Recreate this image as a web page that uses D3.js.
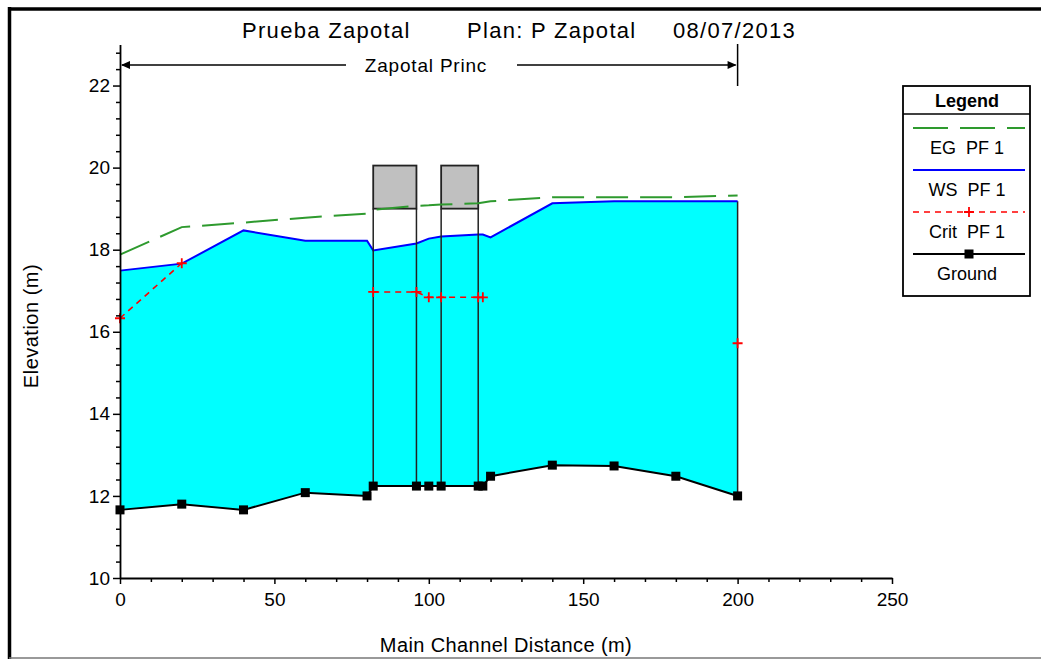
<!DOCTYPE html>
<html>
<head>
<meta charset="utf-8">
<script src="https://cdn.jsdelivr.net/npm/d3@7"></script>
<style>
  body { margin: 0; background: #fff; }
  text { font-family: "Liberation Sans", Arial, sans-serif; fill: #000; }
</style>
</head>
<body>
<svg id="chart" width="1041" height="659"></svg>
<script>
// profile data (main channel stations, m)
const stations = [0, 20, 40, 60, 80, 82, 96, 100, 104, 116, 117.5, 120, 140, 160, 180, 200];
const ground   = [11.66, 11.8, 11.66, 12.08, 12.0, 12.24, 12.24, 12.24, 12.24, 12.24, 12.24, 12.48, 12.75, 12.73, 12.48, 12.0];
const wsPF1    = [17.49, 17.66, 18.47, 18.22, 18.22, 17.98, 18.15, 18.27, 18.32, 18.37, 18.37, 18.3, 19.13, 19.18, 19.18, 19.18];
const egPF1    = [17.88, 18.55, 18.66, 18.78, 18.88, 18.97, 19.07, 19.08, 19.1, 19.13, 19.15, 19.18, 19.28, 19.28, 19.28, 19.32];
const critPF1  = [16.33, 17.67, null, null, null, 16.97, 16.97, 16.84, 16.84, 16.84, 16.84, null, null, null, null, 15.72];

// bridge decks
const bridgeUp   = [82, 104];
const bridgeDown = [96, 116];
const highChord  = [20.05, 20.05];
const lowChord   = [19.0, 19.0];

const reachName = "Zapotal Princ";
const reachFrom = 0, reachTo = 200;

const xTicks = [0, 50, 100, 150, 200, 250];
const yTicks = [10, 12, 14, 16, 18, 20, 22];
const titleParts = ["Prueba Zapotal", "Plan: P Zapotal", "08/07/2013"];
const legendNames = ["EG  PF 1", "WS  PF 1", "Crit  PF 1", "Ground"];

const svg = d3.select("#chart");

const x = d3.scaleLinear().domain([0, 250]).range([120, 892]);
const y = d3.scaleLinear().domain([10, 23]).range([578, 44.5]);

const pts = stations.map((s, i) => ({
  s: s, g: ground[i], ws: wsPF1[i], eg: egPF1[i], cr: critPF1[i]
}));

// outer frame
svg.append("line").attr("x1", 9).attr("y1", 9).attr("x2", 1041).attr("y2", 9)
  .attr("stroke", "#000").attr("stroke-width", 3.5);
svg.append("line").attr("x1", 9.5).attr("y1", 7).attr("x2", 9.5).attr("y2", 659)
  .attr("stroke", "#000").attr("stroke-width", 3.5);
svg.append("line").attr("x1", 9).attr("y1", 658).attr("x2", 1041).attr("y2", 658)
  .attr("stroke", "#777").attr("stroke-width", 1.5);

// water fill
svg.append("path")
  .datum(pts)
  .attr("fill", "#00ffff")
  .attr("d", d3.area().x(d => x(d.s)).y0(d => y(d.g)).y1(d => y(d.ws)));

// right end of water
const last = pts[pts.length - 1];
svg.append("line")
  .attr("x1", x(last.s)).attr("x2", x(last.s))
  .attr("y1", y(last.ws)).attr("y2", y(last.g))
  .attr("stroke", "#222").attr("stroke-width", 1.5);

// water surface
svg.append("path")
  .datum(pts)
  .attr("fill", "none").attr("stroke", "#0000ff").attr("stroke-width", 2)
  .attr("d", d3.line().x(d => x(d.s)).y(d => y(d.ws)));

// bridges
const groundAt = s => pts.find(p => p.s === s).g;
bridgeUp.forEach((b, i) => {
  const e = bridgeDown[i];
  svg.append("rect")
    .attr("x", x(b)).attr("y", y(highChord[i]))
    .attr("width", x(e) - x(b)).attr("height", y(lowChord[i]) - y(highChord[i]))
    .attr("fill", "#c0c0c0").attr("stroke", "#222").attr("stroke-width", 1.8);
  [b, e].forEach(s => {
    svg.append("line")
      .attr("x1", x(s)).attr("x2", x(s))
      .attr("y1", y(lowChord[i])).attr("y2", y(groundAt(s)))
      .attr("stroke", "#222").attr("stroke-width", 1.5);
  });
});

// ground
svg.append("path")
  .datum(pts)
  .attr("fill", "none").attr("stroke", "#000").attr("stroke-width", 2)
  .attr("d", d3.line().x(d => x(d.s)).y(d => y(d.g)));

// critical depth
svg.append("path")
  .datum(pts)
  .attr("fill", "none").attr("stroke", "#ff0000").attr("stroke-width", 1.6)
  .attr("stroke-dasharray", "6,5")
  .attr("d", d3.line().defined(d => d.cr !== null).x(d => x(d.s)).y(d => y(d.cr)));

// energy grade
svg.append("path")
  .datum(pts)
  .attr("fill", "none").attr("stroke", "#2e9a2e").attr("stroke-width", 2)
  .attr("stroke-dasharray", "32,12")
  .attr("d", d3.line().x(d => x(d.s)).y(d => y(d.eg)));

// crit markers
svg.selectAll(".critMark")
  .data(pts.filter(d => d.cr !== null))
  .enter().append("path")
  .attr("class", "critMark")
  .attr("d", d => `M${x(d.s) - 5},${y(d.cr)}h10M${x(d.s)},${y(d.cr) - 5}v10`)
  .attr("stroke", "#ff0000").attr("stroke-width", 1.8);

// ground markers
svg.selectAll(".gMark")
  .data(pts)
  .enter().append("rect")
  .attr("class", "gMark")
  .attr("x", d => x(d.s) - 4.5).attr("y", d => y(d.g) - 4.5)
  .attr("width", 9).attr("height", 9)
  .attr("fill", "#000");

// axes
svg.append("g").attr("transform", "translate(120,0)")
  .call(d3.axisLeft(y).tickValues(yTicks).tickSize(7).tickSizeOuter(0).tickPadding(3));
svg.append("g").attr("transform", "translate(120,0)")
  .call(d3.axisLeft(y).tickValues(d3.range(10.4, 23, 0.4).filter(v => Math.abs(v / 2 - Math.round(v / 2)) > 0.01))
    .tickSize(4).tickSizeOuter(0).tickFormat(""))
  .select(".domain").remove();
svg.append("g").attr("transform", "translate(0,578)")
  .call(d3.axisBottom(x).tickValues(xTicks).tickSize(6).tickSizeOuter(0).tickPadding(9));
svg.append("g").attr("transform", "translate(0,578)")
  .call(d3.axisBottom(x).tickValues(d3.range(10, 250, 10).filter(v => v % 50 !== 0))
    .tickSize(4).tickSizeOuter(0).tickFormat(""))
  .select(".domain").remove();

svg.selectAll(".tick line").attr("stroke", "#000").attr("stroke-width", 1.5);
svg.selectAll(".domain").attr("stroke", "#000").attr("stroke-width", 1.8);
svg.selectAll(".tick text").style("font-size", "19px")
  .style("font-family", '"Liberation Sans", Arial, sans-serif');

// axis titles
svg.append("text").attr("x", 506).attr("y", 652).attr("text-anchor", "middle")
  .style("font-size", "20px").style("letter-spacing", "0.4px").text("Main Channel Distance (m)");
svg.append("text").attr("transform", "translate(38,326) rotate(-90)").attr("text-anchor", "middle")
  .style("font-size", "20px").style("letter-spacing", "0.5px").text("Elevation (m)");

// title
const titleX = [242, 467, 673];
titleParts.forEach((t, i) => {
  svg.append("text").attr("x", titleX[i]).attr("y", 38)
    .style("font-size", "22px").style("letter-spacing", "1.3px").text(t);
});

// reach annotation
const ry = 65;
svg.append("line").attr("x1", x(reachTo)).attr("x2", x(reachTo)).attr("y1", 44).attr("y2", 86)
  .attr("stroke", "#000").attr("stroke-width", 1.5);
svg.append("line").attr("x1", x(reachFrom) + 2).attr("x2", 346).attr("y1", ry).attr("y2", ry)
  .attr("stroke", "#000").attr("stroke-width", 1.5);
svg.append("line").attr("x1", 517).attr("x2", x(reachTo) - 2).attr("y1", ry).attr("y2", ry)
  .attr("stroke", "#000").attr("stroke-width", 1.5);
svg.append("path")
  .attr("d", `M${x(reachFrom) + 1},${ry}l9,-4v8z M${x(reachTo) - 1},${ry}l-9,-4v8z`)
  .attr("fill", "#000");
svg.append("text").attr("x", 426).attr("y", ry + 7)
  .attr("text-anchor", "middle").style("font-size", "19px").style("letter-spacing", "0.8px").text(reachName);

// legend
const lg = svg.append("g");
lg.append("rect").attr("x", 903).attr("y", 86).attr("width", 127).attr("height", 210)
  .attr("fill", "#fff").attr("stroke", "#000").attr("stroke-width", 1.8);
lg.append("line").attr("x1", 903).attr("x2", 1030).attr("y1", 114).attr("y2", 114)
  .attr("stroke", "#000").attr("stroke-width", 1.5);
lg.append("text").attr("x", 967).attr("y", 107).attr("text-anchor", "middle")
  .style("font-size", "18px").style("font-weight", "bold").text("Legend");

const lineY = [128, 170, 212, 254];
const textY = [154, 196, 238, 280];
const lx1 = 913, lx2 = 1025, lmid = 969;
lg.append("line").attr("x1", lx1).attr("x2", lx2).attr("y1", lineY[0]).attr("y2", lineY[0])
  .attr("stroke", "#2e9a2e").attr("stroke-width", 2).attr("stroke-dasharray", "35,12");
lg.append("line").attr("x1", lx1).attr("x2", lx2).attr("y1", lineY[1]).attr("y2", lineY[1])
  .attr("stroke", "#0000ff").attr("stroke-width", 2);
lg.append("line").attr("x1", lx1).attr("x2", lx2).attr("y1", lineY[2]).attr("y2", lineY[2])
  .attr("stroke", "#ff0000").attr("stroke-width", 1.6).attr("stroke-dasharray", "6,5");
lg.append("path").attr("d", `M${lmid - 5},${lineY[2]}h10M${lmid},${lineY[2] - 5}v10`)
  .attr("stroke", "#ff0000").attr("stroke-width", 1.8);
lg.append("line").attr("x1", lx1).attr("x2", lx2).attr("y1", lineY[3]).attr("y2", lineY[3])
  .attr("stroke", "#000").attr("stroke-width", 2);
lg.append("rect").attr("x", lmid - 4.5).attr("y", lineY[3] - 4.5).attr("width", 9).attr("height", 9)
  .attr("fill", "#000");
legendNames.forEach((n, i) => {
  lg.append("text").attr("x", lmid - 2).attr("y", textY[i]).attr("text-anchor", "middle")
    .style("font-size", "18px").style("white-space", "pre").attr("xml:space", "preserve").text(n);
});
</script>
</body>
</html>
